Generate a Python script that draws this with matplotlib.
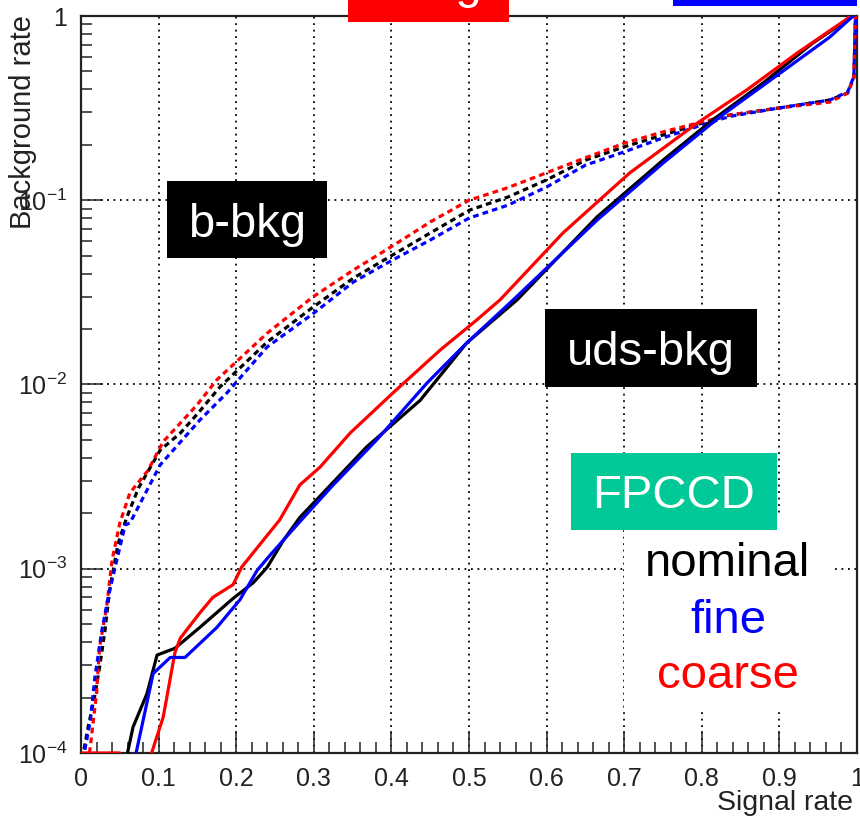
import matplotlib
matplotlib.use("Agg")
import matplotlib.pyplot as plt
from matplotlib.patches import Rectangle
from matplotlib.ticker import FixedLocator, FixedFormatter, MultipleLocator

plt.rcParams['font.family'] = ['Liberation Sans', 'DejaVu Sans']
plt.rcParams['mathtext.fontset'] = 'custom'
plt.rcParams['mathtext.rm'] = 'Liberation Sans'
plt.rcParams['mathtext.it'] = 'Liberation Sans:italic'
plt.rcParams['mathtext.default'] = 'regular'

# b-jet background rejection curves (dashed)
b_nominal_x = [0.004, 0.009, 0.018, 0.024, 0.031, 0.037, 0.048, 0.059, 0.074, 0.102,
               0.128, 0.151, 0.179, 0.240, 0.299, 0.351, 0.400, 0.450, 0.501, 0.550,
               0.600, 0.650, 0.700, 0.750, 0.800, 0.836, 0.900, 0.965, 0.988, 0.996, 0.998]
b_nominal_y = [1.05e-4, 1.37e-4, 2.07e-4, 2.93e-4, 4.66e-4, 7.7e-4, 1.38e-3, 1.9e-3, 2.74e-3, 4.4e-3,
               5.45e-3, 7.0e-3, 9.7e-3, 0.017, 0.0263, 0.0378, 0.050, 0.0664, 0.0885, 0.104,
               0.129, 0.165, 0.195, 0.226, 0.262, 0.290, 0.317, 0.350, 0.382, 0.467, 1.0]

b_fine_x = [0.005, 0.012, 0.018, 0.027, 0.035, 0.046, 0.057, 0.063, 0.102, 0.153,
            0.188, 0.240, 0.300, 0.351, 0.400, 0.450, 0.500, 0.550, 0.600, 0.650,
            0.700, 0.750, 0.800, 0.836, 0.900, 0.965, 0.988, 0.996, 0.998]
b_fine_y = [1.04e-4, 1.5e-4, 2.6e-4, 4.66e-4, 7.0e-4, 1.11e-3, 1.73e-3, 1.77e-3, 3.66e-3, 6.4e-3,
            9.0e-3, 0.016, 0.0244, 0.036, 0.047, 0.0608, 0.080, 0.094, 0.118, 0.155,
            0.183, 0.218, 0.256, 0.285, 0.317, 0.350, 0.387, 0.470, 1.0]

b_coarse_x = [0.011, 0.014, 0.020, 0.024, 0.033, 0.040, 0.050, 0.063, 0.086, 0.106,
              0.149, 0.175, 0.240, 0.299, 0.351, 0.400, 0.450, 0.500, 0.550, 0.600,
              0.650, 0.700, 0.750, 0.800, 0.836, 0.900, 0.965, 0.988, 0.996, 0.998]
b_coarse_y = [1.0e-4, 1.28e-4, 2.1e-4, 3.76e-4, 6.2e-4, 1.11e-3, 1.77e-3, 2.58e-3, 3.4e-3, 4.9e-3,
              7.7e-3, 0.0106, 0.019, 0.0299, 0.0418, 0.056, 0.0762, 0.100, 0.117, 0.141,
              0.170, 0.204, 0.235, 0.266, 0.290, 0.317, 0.341, 0.382, 0.460, 1.0]

# uds background rejection curves (solid)
uds_nominal_x = [0.055, 0.067, 0.085, 0.098, 0.121, 0.153, 0.196, 0.222, 0.240, 0.261,
                 0.282, 0.312, 0.368, 0.437, 0.497, 0.562, 0.665, 0.750, 0.814, 0.879,
                 0.943, 0.995]
uds_nominal_y = [8.0e-5, 1.38e-4, 2.1e-4, 3.4e-4, 3.7e-4, 4.8e-4, 6.9e-4, 8.4e-4, 1.02e-3, 1.43e-3,
                 1.9e-3, 2.58e-3, 4.58e-3, 8.2e-3, 0.0168, 0.0288, 0.0812, 0.165, 0.273, 0.433,
                 0.713, 1.0]

uds_fine_x = [0.066, 0.080, 0.093, 0.115, 0.134, 0.175, 0.205, 0.227, 0.244, 0.282,
              0.325, 0.381, 0.446, 0.497, 0.557, 0.665, 0.750, 0.823, 0.901, 0.965, 0.995]
uds_fine_y = [8.0e-5, 1.5e-4, 2.7e-4, 3.3e-4, 3.3e-4, 4.8e-4, 6.8e-4, 9.8e-4, 1.19e-3, 1.8e-3,
              2.85e-3, 5.0e-3, 0.0102, 0.0168, 0.0288, 0.078, 0.159, 0.283, 0.49, 0.769, 1.0]

uds_coarse_x = [0.0, 0.050, 0.070, 0.091, 0.106, 0.121, 0.128, 0.153, 0.170, 0.196,
                0.207, 0.235, 0.256, 0.282, 0.308, 0.347, 0.402, 0.463, 0.510, 0.540,
                0.621, 0.707, 0.794, 0.858, 0.923, 0.991]
uds_coarse_y = [1.0e-4, 1.0e-4, 1.0e-5, 1.0e-4, 1.57e-4, 3.5e-4, 4.2e-4, 5.75e-4, 7.0e-4, 8.2e-4,
                1.02e-3, 1.43e-3, 1.84e-3, 2.85e-3, 3.56e-3, 5.46e-3, 9.0e-3, 0.0154, 0.0224, 0.0288,
                0.0664, 0.1406, 0.262, 0.397, 0.63, 0.99]

x_ticks = [0.0, 0.1, 0.2, 0.3, 0.4, 0.5, 0.6, 0.7, 0.8, 0.9, 1.0]
x_tick_labels = ['0', '0.1', '0.2', '0.3', '0.4', '0.5', '0.6', '0.7', '0.8', '0.9', '1']
y_ticks = [1e-4, 1e-3, 1e-2, 1e-1, 1]
y_tick_labels = ['$10^{-4}$', '$10^{-3}$', '$10^{-2}$', '$10^{-1}$', '1']

W, H = 860, 821
fig = plt.figure(figsize=(W / 100, H / 100), dpi=100)


def fx(px):
    return px / W


def fy(py):
    return 1 - py / H


ax = fig.add_axes([fx(81), fy(753), 776 / W, 737 / H])
ax.set_yscale('log')
ax.set_xlim(0, 1)
ax.set_ylim(1e-4, 1)

dash = (0, (1.8, 1.3))
lw = 2.3
ax.plot(b_nominal_x, b_nominal_y, color='black', lw=lw, ls=dash, zorder=3)
ax.plot(b_coarse_x, b_coarse_y, color='red', lw=lw, ls=dash, zorder=3)
ax.plot(b_fine_x, b_fine_y, color='blue', lw=lw, ls=dash, zorder=3)
ax.plot(uds_nominal_x, uds_nominal_y, color='black', lw=lw, zorder=3)
ax.plot(uds_coarse_x, uds_coarse_y, color='red', lw=lw, zorder=3)
ax.plot(uds_fine_x, uds_fine_y, color='blue', lw=lw, zorder=3)

# ROOT-like axes: inward ticks on left and bottom only
ax.xaxis.set_major_locator(FixedLocator(x_ticks))
ax.xaxis.set_major_formatter(FixedFormatter(x_tick_labels))
ax.xaxis.set_minor_locator(MultipleLocator(0.02))
ax.yaxis.set_major_locator(FixedLocator(y_ticks))
ax.yaxis.set_major_formatter(FixedFormatter(y_tick_labels))
ax.tick_params(which='both', direction='in', top=False, right=False,
               width=1.1, colors='#222222', labelcolor='#222222', labelsize=18, pad=10)
ax.tick_params(which='major', length=16)
ax.tick_params(which='minor', length=8)
for s in ax.spines.values():
    s.set_linewidth(1.6)
    s.set_color('#222222')

ax.grid(True, which='major', color='black', lw=1.3, ls=(0, (1, 2.6)), zorder=1)

fig.text(fx(23), fy(15), 'Background rate', rotation=90, ha='center', va='top',
         fontsize=21, color='#222222')
fig.text(fx(853), fy(803), 'Signal rate', ha='right', va='center',
         fontsize=20.5, color='#222222')


def box(x0, y0, x1, y1, color, z=5):
    fig.patches.append(Rectangle((fx(x0), fy(y1)), fx(x1) - fx(x0), fy(y0) - fy(y1),
                                 transform=fig.transFigure, facecolor=color,
                                 edgecolor='none', zorder=z))


# legend panel background
box(624, 515, 833, 712, 'white', z=4)

box(167, 181, 327, 258, 'black')
fig.text(fx(247), fy(237), 'b-bkg', color='white', fontsize=34, ha='center', va='baseline', zorder=6)
box(545, 309, 757, 387, 'black')
fig.text(fx(651), fy(365), 'uds-bkg', color='white', fontsize=34, ha='center', va='baseline', zorder=6)
box(571, 453, 777, 530, '#00c997')
fig.text(fx(674), fy(508), 'FPCCD', color='white', fontsize=34, ha='center', va='baseline', zorder=6)

fig.text(fx(728), fy(576), 'nominal', color='black', fontsize=34, ha='center', va='baseline', zorder=6)
fig.text(fx(728), fy(633), 'fine', color='blue', fontsize=34, ha='center', va='baseline', zorder=6)
fig.text(fx(728), fy(688), 'coarse', color='red', fontsize=34, ha='center', va='baseline', zorder=6)

# title tags at the top edge
box(348, -40, 509, 22, 'red')
fig.text(fx(428), fy(-2), 'b-tag', color='white', fontsize=34, ha='center', va='baseline', zorder=6)
box(673, -40, 857, 6, 'blue')
fig.text(fx(765), fy(-20), 'c-tag', color='white', fontsize=34, ha='center', va='baseline', zorder=6)

fig.savefig('out.png', dpi=100)
